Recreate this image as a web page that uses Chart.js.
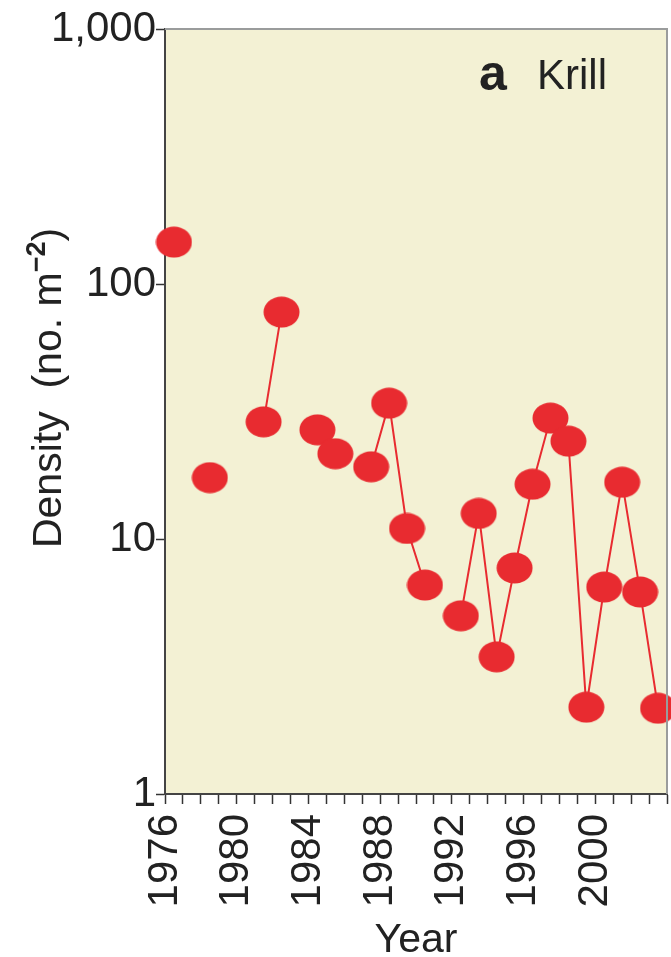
<!DOCTYPE html>
<html>
<head>
<meta charset="utf-8">
<script src="https://cdn.jsdelivr.net/npm/chart.js@4.4.1/dist/chart.umd.min.js"></script>
<style>
  html, body { margin: 0; padding: 0; background: #fff; overflow: hidden; }
  #wrap { width: 671px; height: 957px; position: relative; }
</style>
</head>
<body>
<div id="wrap"><canvas id="chart"></canvas></div>
<script>
// Krill density by year (no. m-2), null = no sample
const years = [1976, 1977, 1978, 1979, 1980, 1981, 1982, 1983, 1984, 1985, 1986, 1987, 1988, 1989,
               1990, 1991, 1992, 1993, 1994, 1995, 1996, 1997, 1998, 1999, 2000, 2001, 2002, 2003];
const density = [146, null, 17.4, null, null, 28.8, 77.6, null, 26.8, 21.6, null, 19.2, 34.1, 11.0,
                 6.6, null, 5.0, 12.6, 3.45, 7.7, 16.4, 29.8, 24.2, 2.19, 6.48, 16.7, 6.2, 2.17];

const xLabelYears = [1976, 1980, 1984, 1988, 1992, 1996, 2000];
const yTicks = [1, 10, 100, 1000];
const yTickLabels = ['1', '10', '100', '1,000'];

const FONT = "'Liberation Sans', Arial, Helvetica, sans-serif";
const RED = '#e82b30';

// ellipse marker
const marker = document.createElement('canvas');
marker.width = 37; marker.height = 32;
(function () {
  const c = marker.getContext('2d');
  c.fillStyle = RED;
  c.beginPath();
  c.ellipse(18.5, 16, 18, 15.5, 0, 0, Math.PI * 2);
  c.fill();
})();

const points = years.map((y, i) => ({ x: y + 0.5, y: density[i] }));

const framePlugin = {
  id: 'frame',
  beforeDraw(chart) {
    const { ctx, chartArea: a } = chart;
    ctx.save();
    ctx.fillStyle = '#f3f1d4';
    ctx.fillRect(a.left, a.top, a.right - a.left, a.bottom - a.top);
    ctx.restore();
  },
  afterDraw(chart) {
    const { ctx, chartArea: a } = chart;
    ctx.save();
    // top and right frame
    ctx.strokeStyle = '#9a9c9c';
    ctx.lineWidth = 2;
    ctx.beginPath();
    ctx.moveTo(a.left, a.top);
    ctx.lineTo(a.right, a.top);
    ctx.lineTo(a.right, a.bottom);
    ctx.stroke();

    // panel label
    ctx.fillStyle = '#222';
    ctx.textBaseline = 'alphabetic';
    ctx.font = 'bold 50px ' + FONT;
    ctx.fillText('a', 479, 90);
    ctx.font = '42px ' + FONT;
    ctx.fillText('Krill', 537, 89);

    // y axis title with superscript
    ctx.translate(61, 388);
    ctx.rotate(-Math.PI / 2);
    const main = 'Density  (no. m';
    const sup = '\u22122';
    const tail = ')';
    ctx.font = '41px ' + FONT;
    const w1 = ctx.measureText(main).width;
    const w3 = ctx.measureText(tail).width;
    ctx.font = '27px ' + FONT;
    const w2 = ctx.measureText(sup).width;
    let x = -(w1 + w2 + w3) / 2;
    ctx.font = '41px ' + FONT;
    ctx.fillText(main, x, 0);
    x += w1;
    ctx.font = 'bold 27px ' + FONT;
    ctx.fillText(sup, x, -16);
    x += w2;
    ctx.font = '41px ' + FONT;
    ctx.fillText(tail, x, 0);
    ctx.restore();
  }
};

new Chart(document.getElementById('chart'), {
  type: 'line',
  data: {
    datasets: [{
      data: points,
      borderColor: RED,
      borderWidth: 2,
      pointStyle: marker,
      pointRadius: 16,
      pointHoverRadius: 16,
      spanGaps: false,
      clip: false,
      tension: 0,
      fill: false,
    }]
  },
  options: {
    responsive: true,
    maintainAspectRatio: false,
    animation: false,
    layout: { autoPadding: false, padding: { top: 29, right: 4, left: 0, bottom: 0 } },
    plugins: {
      legend: { display: false },
      tooltip: { enabled: false },
    },
    scales: {
      x: {
        type: 'linear',
        min: 1976,
        max: 2004,
        afterBuildTicks: (scale) => {
          scale.ticks = years.concat([2004]).map(v => ({ value: v }));
        },
        afterFit: (scale) => {
          scale.height = 163;
          scale.paddingLeft = 0;
          scale.paddingRight = 0;
        },
        ticks: {
          autoSkip: false,
          maxRotation: 90,
          minRotation: 90,
          padding: 10,
          color: '#222',
          font: { family: FONT, size: 42 },
          callback: (v) => xLabelYears.includes(v) ? String(v) : '',
        },
        grid: {
          drawOnChartArea: false,
          drawTicks: true,
          tickLength: 10,
          tickWidth: 1.5,
          tickColor: '#333',
        },
        border: { display: true, color: '#444', width: 2 },
        title: {
          display: true,
          text: 'Year',
          color: '#222',
          font: { family: FONT, size: 41, lineHeight: 1 },
          padding: { top: 0, bottom: -4 },
        },
      },
      y: {
        type: 'logarithmic',
        min: 1,
        max: 1000,
        afterBuildTicks: (scale) => {
          scale.ticks = yTicks.map(v => ({ value: v }));
        },
        afterFit: (scale) => {
          scale.width = 165;
          scale.paddingTop = 0;
          scale.paddingBottom = 0;
        },
        ticks: {
          autoSkip: false,
          padding: 0,
          color: '#222',
          font: { family: FONT, size: 42 },
          callback: (v) => {
            const i = yTicks.indexOf(v);
            return i >= 0 ? yTickLabels[i] : '';
          },
        },
        grid: {
          drawOnChartArea: false,
          drawTicks: true,
          tickLength: 9,
          tickWidth: 1.5,
          tickColor: '#333',
        },
        border: { display: true, color: '#444', width: 2 },
      },
    },
  },
  plugins: [framePlugin],
});
</script>
</body>
</html>
